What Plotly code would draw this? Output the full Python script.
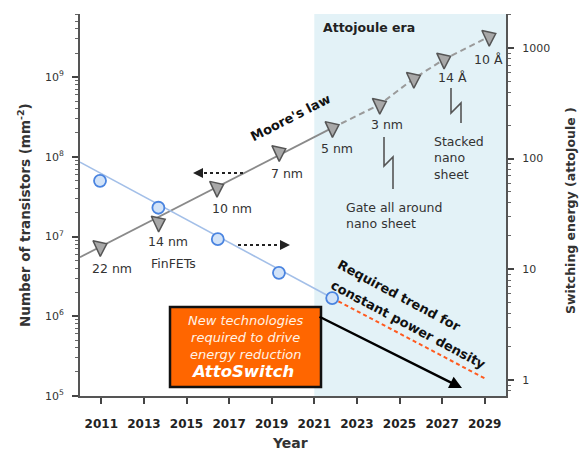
import plotly.graph_objects as go

# ---------------- data ----------------
node_years = [2010.94, 2013.68, 2016.42, 2019.34, 2021.84, 2024.06, 2025.66, 2027.08, 2029.2]
node_density = [7.4e6, 1.5e7, 4.1e7, 1.15e8, 2.3e8, 4.5e8, 9.5e8, 1.66e9, 3.2e9]
node_labels = ["22 nm", "14 nm", "10 nm", "7 nm", "5 nm", "3 nm", "", "14 Å", "10 Å"]

moore_fit_years = [2010.0, 2021.84]
moore_fit_density = [5.5e6, 2.3e8]

energy_years = [2010.94, 2013.68, 2016.47, 2019.34, 2021.84]
energy_aj = [63, 36, 18.7, 9.3, 5.5]

energy_fit_years = [2010.0, 2021.84]
energy_fit_aj = [93, 5.5]

required_years = [2021.84, 2029.06]
required_aj = [5.5, 1.02]

year_ticks = [2011, 2013, 2015, 2017, 2019, 2021, 2023, 2025, 2027, 2029]
left_ticks = [1e5, 1e6, 1e7, 1e8, 1e9]
left_ticktext = ["10<sup>5</sup>", "10<sup>6</sup>", "10<sup>7</sup>", "10<sup>8</sup>",
                 "10<sup>9</sup>"]
right_ticks = [1, 10, 100, 1000]
right_ticktext = ["1", "10", "100", "1000"]
era_start, era_end = 2021, 2030

# minor tick positions (2..9 in each decade)
left_minor = [m * d for d in [1e5, 1e6, 1e7, 1e8, 1e9] for m in range(2, 10)]
right_minor = [m * d for d in [0.1, 1, 10, 100, 1000] for m in range(2, 10)]

# ---------------- layout helpers (pixel -> paper) ----------------
L, R, T, B = 80, 506, 14, 396
W, H = 588, 452


def px(x):
    return (x - L) / (R - L)


def py(y):
    return (B - y) / (B - T)


FONT = "DejaVu Sans, Verdana, sans-serif"
TXT = "#333333"

fig = go.Figure()

# Moore's law trend
fig.add_trace(go.Scatter(x=moore_fit_years, y=moore_fit_density, mode="lines",
                         line=dict(color="#8a8a8a", width=1.8), hoverinfo="skip"))
fig.add_trace(go.Scatter(x=node_years[4:], y=node_density[4:], mode="lines",
                         line=dict(color="#9a9a9a", width=2, dash="6px,4px"), hoverinfo="skip"))

# Switching energy trend
fig.add_trace(go.Scatter(x=energy_fit_years, y=energy_fit_aj, mode="lines", yaxis="y2",
                         line=dict(color="#a3bfe8", width=1.6), hoverinfo="skip"))
fig.add_trace(go.Scatter(x=required_years, y=required_aj, mode="lines", yaxis="y2",
                         line=dict(color="#ff5a1f", width=2, dash="4px,3px"), hoverinfo="skip"))

# markers
fig.add_trace(go.Scatter(x=node_years, y=node_density, mode="markers",
                         marker=dict(symbol="triangle-right", size=15, angle=-25,
                                     color="#a8a8a8", line=dict(color="#555555", width=1.5))))
fig.add_trace(go.Scatter(x=energy_years, y=energy_aj, mode="markers", yaxis="y2",
                         marker=dict(symbol="circle", size=12, color="#d2e3f8",
                                     line=dict(color="#4a84e0", width=1.8))))

shapes = []
# Attojoule era shading
shapes.append(dict(type="rect", xref="x", yref="paper", x0=era_start, x1=era_end, y0=0, y1=1,
                   fillcolor="#e3f2f7", line=dict(width=0), layer="below"))
# orange box
shapes.append(dict(type="rect", xref="paper", yref="paper", x0=px(170), x1=px(321),
                   y0=py(387), y1=py(307), fillcolor="#ff6600",
                   line=dict(color="#111111", width=2.5)))


def bolt(pts):
    d = "M " + " L ".join(f"{px(a):.5f},{py(b):.5f}" for a, b in pts)
    return dict(type="path", xref="paper", yref="paper", path=d,
                line=dict(color="#555555", width=1.6))


shapes.append(bolt([(384, 137), (384, 166), (393, 157), (393, 189)]))
shapes.append(bolt([(451, 88), (451, 113), (461, 103), (461, 123)]))
# dotted arrows shafts
shapes.append(dict(type="line", xref="paper", yref="paper", x0=px(243), x1=px(198),
                   y0=py(173), y1=py(173), line=dict(color="#222222", width=2, dash="dot")))
shapes.append(dict(type="line", xref="paper", yref="paper", x0=px(238), x1=px(285),
                   y0=py(245), y1=py(245), line=dict(color="#222222", width=2, dash="dot")))

ann = []


def label(text, x, y, size=12, bold=False, color=TXT, xanchor="center", angle=0,
          italic=False, align="center"):
    t = text
    if bold:
        t = f"<b>{t}</b>"
    if italic:
        t = f"<i>{t}</i>"
    ann.append(dict(text=t, x=px(x), y=py(y), xref="paper", yref="paper", showarrow=False,
                    xanchor=xanchor, yanchor="middle", textangle=angle, align=align,
                    font=dict(family=FONT, size=size, color=color)))


label_pos = [(112, 268), (168, 241), (232, 208), (287, 173), (337, 148), (387, 124),
             None, (452, 78), (488, 60)]
for txt, pos in zip(node_labels, label_pos):
    if txt and pos:
        label(txt, pos[0], pos[1], size=12.5)

label("FinFETs", 173, 263, size=12.5)
label("Attojoule era", 321, 27, size=12.5, bold=True, color="#222222", xanchor="left")
label("Gate all around<br>nano sheet", 344, 215, size=12.5, xanchor="left", align="left")
label("Stacked<br>nano<br>sheet", 432, 158, size=12.5, xanchor="left", align="left")
label("Moore's law", 291, 118, size=13, bold=True, color="#111111", angle=-27)
label("Required trend for", 399, 295, size=13, bold=True, color="#111111", angle=28)
label("constant power density", 408, 324, size=13, bold=True, color="#111111", angle=28)

# orange box text
ann.append(dict(text="<i>New technologies<br>required to drive<br>energy reduction</i>",
                x=px(246), y=py(337), xref="paper", yref="paper", showarrow=False,
                xanchor="center", yanchor="middle",
                font=dict(family=FONT, size=13, color="#fff3e6")))
ann.append(dict(text="<b><i>AttoSwitch</i></b>", x=px(242), y=py(371), xref="paper",
                yref="paper", showarrow=False, xanchor="center", yanchor="middle",
                font=dict(family=FONT, size=16.5, color="#ffffff")))

# black trend arrow
ann.append(dict(text="", x=px(462), y=py(388), xref="paper", yref="paper", showarrow=True,
                ax=318 - 462, ay=316 - 388, arrowhead=2, arrowsize=1, arrowwidth=2.5,
                arrowcolor="#000000"))
# dotted arrow heads
ann.append(dict(text="", x=px(193), y=py(173), xref="paper", yref="paper", showarrow=True,
                ax=7, ay=0, arrowhead=2, arrowsize=1, arrowwidth=2, arrowcolor="#222222"))
ann.append(dict(text="", x=px(290), y=py(245), xref="paper", yref="paper", showarrow=True,
                ax=-7, ay=0, arrowhead=2, arrowsize=1, arrowwidth=2, arrowcolor="#222222"))

# axis titles
label("Number of transistors (mm<sup>-2</sup>)", 24, 215, size=13.5, bold=True,
      color="#333333", angle=-90)
label("Switching energy (attoJoule )", 570, 211, size=12.5, bold=True,
      color="#333333", angle=-90)
label("Year", 290, 443, size=14, bold=True, color="#333333")

fig.update_layout(
    width=W, height=H,
    margin=dict(l=L, r=W - R, t=T, b=H - B, pad=0),
    paper_bgcolor="white", plot_bgcolor="white",
    showlegend=False,
    shapes=shapes, annotations=ann,
    font=dict(family=FONT, color=TXT),
    xaxis=dict(range=[2010, 2030], tickmode="array", tickvals=year_ticks,
               ticks="outside", ticklen=6, tickwidth=1.5, tickcolor="#444",
               showline=True, linecolor="#555", linewidth=2, showgrid=False, zeroline=False,
               ticklabelstandoff=10,
               tickfont=dict(family=FONT, size=12, color="#222", weight="bold")),
    yaxis=dict(type="log", range=[5, 9.79], tickmode="array", tickvals=left_ticks,
               ticktext=left_ticktext, ticks="outside", ticklen=6,
               tickwidth=1.5, tickcolor="#444", showline=True, linecolor="#555", linewidth=2,
               showgrid=False, zeroline=False, ticklabelstandoff=6,
               minor=dict(ticks="outside", ticklen=3, tickmode="array", tickvals=left_minor,
                          tickcolor="#666", tickwidth=1, showgrid=False),
               tickfont=dict(family=FONT, size=11, color="#333")),
    yaxis2=dict(type="log", range=[-0.145, 3.307], tickmode="array", tickvals=right_ticks,
                ticktext=right_ticktext,
                overlaying="y", side="right", ticks="outside", ticklen=6, tickwidth=1.5,
                tickcolor="#444", showline=True, linecolor="#555", linewidth=2,
                showgrid=False, zeroline=False, ticklabelstandoff=6,
                minor=dict(ticks="outside", ticklen=3, tickmode="array", tickvals=right_minor,
                           tickcolor="#666", tickwidth=1, showgrid=False),
                tickfont=dict(family=FONT, size=11, color="#333")),
)

fig.write_html("out.html")
